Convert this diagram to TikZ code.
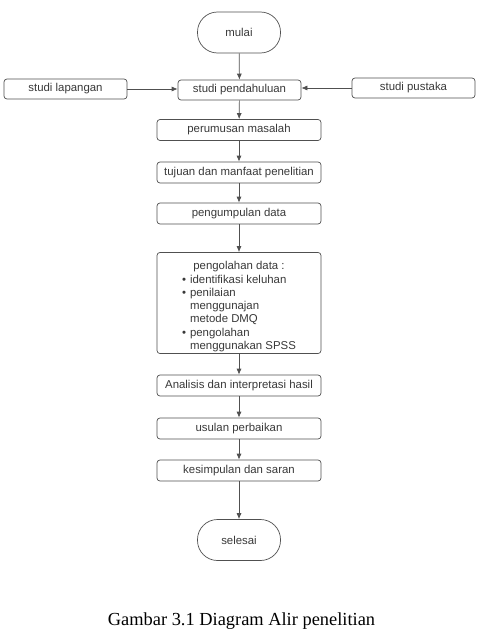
\documentclass[tikz,border=0pt]{standalone}
\usepackage{fontspec}
\setmainfont{Liberation Sans}
\newfontfamily\capfont{Liberation Serif}
\usetikzlibrary{arrows.meta}
\definecolor{ln}{HTML}{505050}
\definecolor{tx}{HTML}{383838}
\begin{document}
\begin{tikzpicture}[x=1pt,y=-1pt,
  box/.style={draw=ln, line width=0.7pt, rounded corners=3pt, minimum width=164pt, minimum height=21pt, inner sep=0pt, text=tx, font=\fontsize{11.4}{13.3}\selectfont},
  term/.style={box, rounded corners=20pt, minimum width=83pt, minimum height=41pt},
  side/.style={box, minimum width=123pt, minimum height=20pt},
  arr/.style={draw=ln, line width=0.7pt, -{Latex[length=6pt,width=5pt]}}]
\useasboundingbox (0,0) rectangle (477,642);
\node[term] (mulai) at (239,32.5) {mulai};
\node[side] (lap) at (65.5,89) {studi lapangan};
\node[side] (pend) at (239.5,90) {studi pendahuluan};
\node[side] (pus) at (413.5,88) {studi pustaka};
\node[box] (rum) at (239,130) {perumusan masalah};
\node[box] (tuj) at (239,172.5) {tujuan dan manfaat penelitian};
\node[box] (kum) at (239,213.5) {pengumpulan data};
\node[box, minimum height=100pt] (olah) at (239,303) {%
  \begin{tabular}{@{}l@{\hspace{4pt}}l@{}}
  \multicolumn{2}{@{}c@{}}{\rule{0pt}{17.3pt}pengolahan data :}\\
  \textbullet & identifikasi keluhan\\
  \textbullet & penilaian\\
   & menggunajan\\
   & metode DMQ\\
  \textbullet & pengolahan\\
   & menggunakan SPSS
  \end{tabular}};
\node[box] (ana) at (239,385.5) {Analisis dan interpretasi hasil};
\node[box] (usu) at (239,428.5) {usulan perbaikan};
\node[box] (kes) at (239,470.5) {kesimpulan dan saran};
\node[term] (sel) at (239,540) {selesai};
\node[font=\capfont\fontsize{18.4}{20}\selectfont, text=black] (cap) at (241.5,621) {Gambar 3.1 Diagram Alir penelitian};
\draw[arr] (mulai) -- (pend);
\draw[arr] (lap.east) -- (lap.east -| pend.west);
\draw[arr] (pus.west) -- (pus.west -| pend.east);
\draw[arr] (pend) -- (rum);
\draw[arr] (rum) -- (tuj);
\draw[arr] (tuj) -- (kum);
\draw[arr] (kum) -- (olah);
\draw[arr] (olah) -- (ana);
\draw[arr] (ana) -- (usu);
\draw[arr] (usu) -- (kes);
\draw[arr] (kes) -- (sel);
\end{tikzpicture}
\end{document}
